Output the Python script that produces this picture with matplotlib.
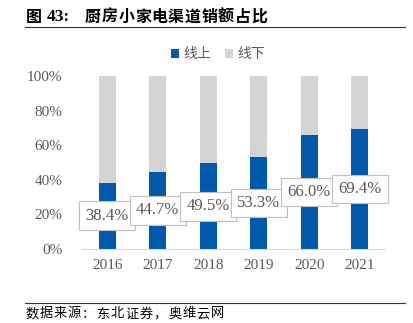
import numpy as np
import matplotlib.pyplot as plt

plt.rcParams['font.family'] = ['Liberation Serif', 'Noto Sans CJK SC']

years = ['2016', '2017', '2018', '2019', '2020', '2021']
online = [38.4, 44.7, 49.5, 53.3, 66.0, 69.4]
offline = [100 - v for v in online]
yticks = [0, 20, 40, 60, 80, 100]

title = '厨房小家电渠道销额占比'
source = '数据来源：东北证券，奥维云网'

blue = '#0059ab'
grey = '#d4d4d4'
txt = '#595959'

W, H = 414, 323
fig = plt.figure(figsize=(W / 100, H / 100), dpi=100)
ax = fig.add_axes([82 / W, 1 - 249 / H, 303 / W, 173 / H])

x = np.arange(len(years))
ax.bar(x, online, width=0.34, color=blue, label='线上', zorder=2)
ax.bar(x, offline, width=0.34, bottom=online, color=grey, label='线下', zorder=2)

for xi, v in zip(x, online):
    ax.text(xi, v / 2, f'{v:.1f}%', ha='center', va='center', fontsize=12,
            color=txt, zorder=3,
            bbox=dict(boxstyle='square,pad=0.38', fc='white', ec='#bfbfbf', lw=0.8))

ax.set_xlim(-0.5, 5.5)
ax.set_ylim(0, 100)
ax.set_yticks(yticks)
ax.set_yticklabels([f'{t}%' for t in yticks])
ax.set_xticks(x)
ax.set_xticklabels(years)
ax.tick_params(length=0, labelsize=11, colors=txt)
ax.tick_params(axis='y', pad=14)
ax.tick_params(axis='x', pad=7)
for s in ['top', 'right', 'left']:
    ax.spines[s].set_visible(False)
ax.spines['bottom'].set_color('#d9d9d9')

leg = fig.legend(loc='center', bbox_to_anchor=(218 / W, 1 - 54 / H), ncol=2,
                 frameon=False, handlelength=0.6, handleheight=0.6,
                 handletextpad=0.3, columnspacing=1.0,
                 prop={'family': ['Noto Sans CJK SC'], 'size': 10})
for t in leg.get_texts():
    t.set_color(txt)

# title, with letter spacing like the original
fig.text(26 / W, 1 - 17 / H, '图', fontsize=11.5, fontweight='bold', va='center',
         family=['Noto Sans CJK SC'])
fig.text(47 / W, 1 - 17 / H, '43:', fontsize=12.5, fontweight='bold', va='center',
         family=['Liberation Serif'])
for i, ch in enumerate(title):
    fig.text((85 + 16.6 * i) / W, 1 - 17 / H, ch, fontsize=11.5, fontweight='bold',
             va='center', family=['Noto Sans CJK SC'])

fig.add_artist(plt.Line2D([25 / W, 405 / W], [1 - 27 / H, 1 - 27 / H],
                          color='#333333', lw=0.8))
fig.add_artist(plt.Line2D([25 / W, 405 / W], [1 - 303 / H, 1 - 303 / H],
                          color='#333333', lw=0.8))
for i, ch in enumerate(source):
    fig.text((25 + 14.3 * i) / W, 1 - 314 / H, ch, fontsize=9.5,
             va='center', family=['Noto Sans CJK SC'])

fig.savefig('out.png', dpi=100)
